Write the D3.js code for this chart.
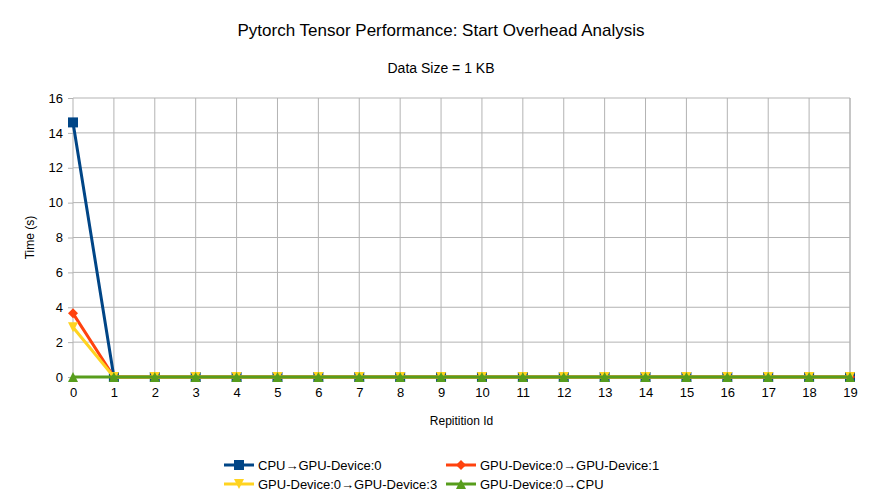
<!DOCTYPE html>
<html><head><meta charset="utf-8">
<script src="https://cdn.jsdelivr.net/npm/d3@7"></script>
<style>body{margin:0;background:#fff}svg{font-family:"Liberation Sans",Arial,sans-serif}</style>
</head><body><svg id="c" width="882" height="496"></svg>
<script>
const reps = d3.range(0,20);
const yTicks = [0,2,4,6,8,10,12,14,16];
const seriesNames = ["CPU→GPU-Device:0","GPU-Device:0→GPU-Device:1","GPU-Device:0→GPU-Device:3","GPU-Device:0→CPU"];
const cpuToGpu0 = [14.6,0,0,0,0,0,0,0,0,0,0,0,0,0,0,0,0,0,0,0];
const gpu0ToGpu1 = [3.65,0,0,0,0,0,0,0,0,0,0,0,0,0,0,0,0,0,0,0];
const gpu0ToGpu3 = [2.85,0,0,0,0,0,0,0,0,0,0,0,0,0,0,0,0,0,0,0];
const gpu0ToCpu = [0,0,0,0,0,0,0,0,0,0,0,0,0,0,0,0,0,0,0,0];
const colors = ["#004586","#ff420e","#ffd320","#579d1c"];
const shapes = ["square","diamond","tri-down","tri-up"];
const allSeries = [cpuToGpu0,gpu0ToGpu1,gpu0ToGpu3,gpu0ToCpu];

const svg = d3.select("#c");
const L=73,R=850,T=98,B=377;
const x = d3.scaleLinear().domain([0,19]).range([L,R]);
const y = d3.scaleLinear().domain([0,16]).range([B,T]);

svg.append("text").attr("x",441).attr("y",36).attr("text-anchor","middle").attr("font-size",17).attr("fill","#000").text("Pytorch Tensor Performance: Start Overhead Analysis");
svg.append("text").attr("x",441).attr("y",73).attr("text-anchor","middle").attr("font-size",14).attr("fill","#000").text("Data Size = 1 KB");

// grid
const g = svg.append("g");
g.selectAll(".hg").data(yTicks).join("line").attr("x1",L).attr("x2",R).attr("y1",d=>y(d)).attr("y2",d=>y(d)).attr("stroke","#b3b3b3").attr("stroke-width",1);
g.selectAll(".vg").data(reps).join("line").attr("x1",d=>x(d)).attr("x2",d=>x(d)).attr("y1",T).attr("y2",B).attr("stroke","#b3b3b3").attr("stroke-width",1);
g.append("line").attr("x1",R).attr("x2",R).attr("y1",T).attr("y2",B).attr("stroke","#b3b3b3");

// axes
const ya = svg.append("g").attr("transform",`translate(${L},0)`).call(d3.axisLeft(y).tickValues(yTicks).tickSize(5).tickPadding(5));
const xa = svg.append("g").attr("transform",`translate(0,${B})`).call(d3.axisBottom(x).tickValues(reps).tickFormat(d3.format("d")).tickSize(5).tickPadding(6));
[ya,xa].forEach(a=>{a.select(".domain").remove();a.selectAll(".tick line").attr("stroke","#b3b3b3");a.selectAll("text").attr("font-size",13).attr("fill","#000").attr("font-family","Liberation Sans, Arial, sans-serif");});

svg.append("text").attr("transform",`translate(34,${(T+B)/2}) rotate(-90)`).attr("text-anchor","middle").attr("font-size",12).text("Time (s)");
svg.append("text").attr("x",(L+R)/2).attr("y",425).attr("text-anchor","middle").attr("font-size",12).text("Repitition Id");

function marker(sel,shape,color,cx,cy){
  const s=5;
  if(shape==="square") sel.append("rect").attr("x",cx-s).attr("y",cy-s).attr("width",2*s).attr("height",2*s).attr("fill",color);
  else if(shape==="diamond") sel.append("path").attr("d",`M${cx},${cy-s}L${cx+s},${cy}L${cx},${cy+s}L${cx-s},${cy}Z`).attr("fill",color);
  else if(shape==="tri-down") sel.append("path").attr("d",`M${cx-s},${cy-s}L${cx+s},${cy-s}L${cx},${cy+s}Z`).attr("fill",color);
  else sel.append("path").attr("d",`M${cx-s},${cy+s}L${cx+s},${cy+s}L${cx},${cy-s}Z`).attr("fill",color);
}

const line = d3.line().x((d,i)=>x(reps[i])).y(d=>y(d));
allSeries.forEach((vals,k)=>{
  const sg = svg.append("g");
  sg.append("path").datum(vals).attr("d",line).attr("fill","none").attr("stroke",colors[k]).attr("stroke-width",3).attr("stroke-linejoin","round");
  vals.forEach((v,i)=>marker(sg,shapes[k],colors[k],x(reps[i]),y(v)));
});

// legend
const legPos = [[224,465],[446,465],[224,484],[446,484]];
seriesNames.forEach((n,k)=>{
  const [lx,ly]=legPos[k];
  const lg = svg.append("g");
  lg.append("line").attr("x1",lx).attr("x2",lx+30).attr("y1",ly).attr("y2",ly).attr("stroke",colors[k]).attr("stroke-width",3);
  marker(lg,shapes[k],colors[k],lx+15,ly);
  lg.append("text").attr("x",lx+34).attr("y",ly+4.5).attr("font-size",13).attr("fill","#000").text(n);
});
</script></body></html>
